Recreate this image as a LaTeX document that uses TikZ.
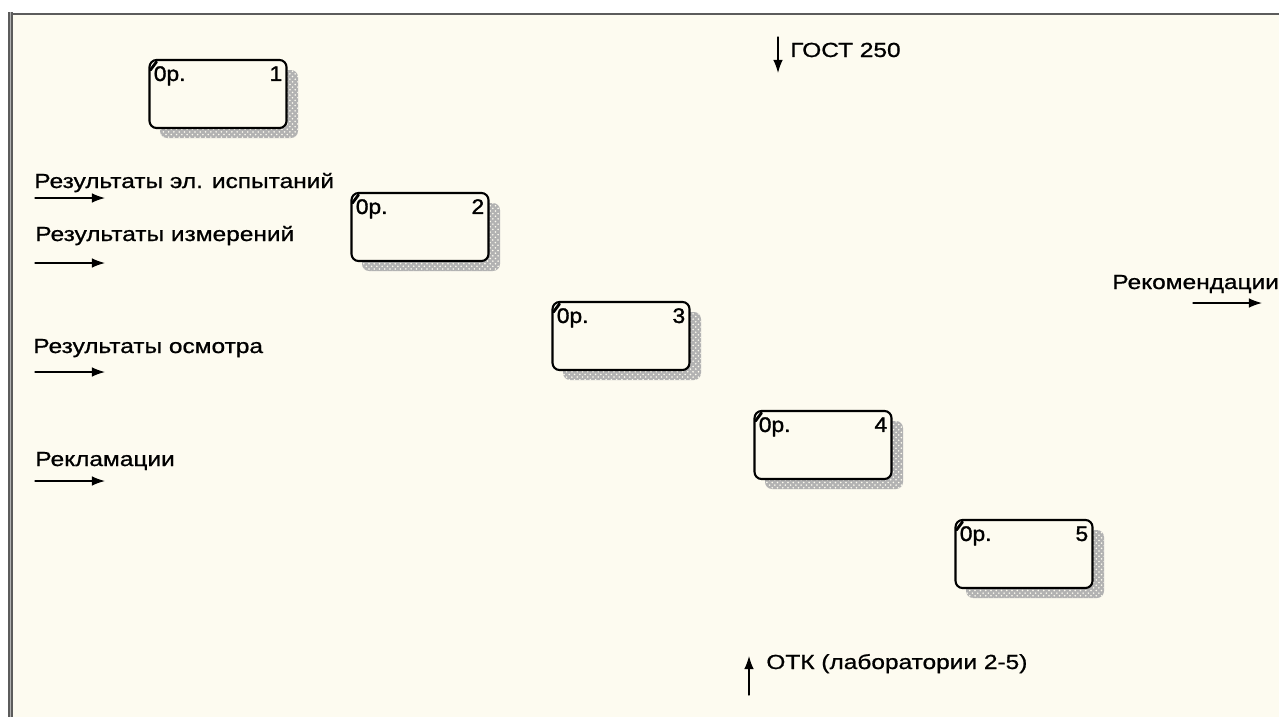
\documentclass[tikz,border=0pt]{standalone}
\usepackage{fontspec}
\setmainfont{Liberation Sans}[FakeStretch=1.2,FakeBold=0.9]
\newfontfamily\boxfont{Liberation Sans}[FakeStretch=1.08,FakeBold=1.6]
\usetikzlibrary{patterns,arrows.meta}
\definecolor{paper}{HTML}{FDFBF0}
\definecolor{rim}{HTML}{5C5C5C}

\begin{document}
\begin{tikzpicture}[x=0.02cm,y=-0.02cm,line cap=round,line join=round,
  lbl/.style={font=\fontsize{11.6}{14}\selectfont,anchor=base west,inner sep=0pt},
  flow/.style={line width=0.75pt,-{Latex[length=7.5pt,width=5.5pt]}},
  actbox/.style={draw,line width=1.2pt,rounded corners=4pt,fill=paper,
    minimum width=2.74cm,minimum height=1.36cm,inner sep=0pt},
  boxtag/.style={font=\boxfont\fontsize{12}{14}\selectfont,inner sep=0pt},
  hatch/.style={fill=gray!60,postaction={pattern=crosshatch dots,pattern color=paper}}]
  % page
  \useasboundingbox (0,0) rectangle (1279,717);
  \fill[white] (0,0) rectangle (1279,717);
  \fill[paper] (10,14) rectangle (1279,717);
  \draw[rim,line width=1pt,line cap=butt] (8,14) -- (1279,14);
  \fill[rim] (8,12) rectangle (13,717);
  \fill[gray!60] (9.7,12) rectangle (11.3,717);

  % activity boxes with hatched shadow
  \foreach \n/\cx/\cy in {1/218/94,2/420/227,3/621/336,4/823/445,5/1024/554}{
    \path[hatch,rounded corners=4pt] (\cx-58,\cy-24) rectangle (\cx+80,\cy+44);
    \node[actbox] (op\n) at (\cx,\cy) {};
    \draw[line width=1.6pt] ([shift={(2,11)}]op\n.north west) -- ([shift={(8,3)}]op\n.north west);
    \node[boxtag,anchor=base west] (tag\n) at ([shift={(5,22)}]op\n.north west) {0p.};
    \node[boxtag,anchor=base east] (num\n) at ([shift={(-5,22)}]op\n.north east) {\n};
  }

  % inputs
  \node[lbl] (inA) at (34,188) {Результаты эл. испытаний};
  \node[lbl] (inB) at (35,241) {Результаты измерений};
  \node[lbl] (inC) at (33,353) {Результаты осмотра};
  \node[lbl] (inD) at (35,466) {Рекламации};
  \coordinate (a0) at (35,198);  \coordinate (a1) at (105,198);
  \coordinate (b0) at (35,263);  \coordinate (b1) at (105,263);
  \coordinate (c0) at (35,372);  \coordinate (c1) at (105,372);
  \coordinate (d0) at (35,481);  \coordinate (d1) at (105,481);
  \draw[flow] (a0) -- (a1);
  \draw[flow] (b0) -- (b1);
  \draw[flow] (c0) -- (c1);
  \draw[flow] (d0) -- (d1);

  % control
  \node[lbl] (ctl) at (790,57) {ГОСТ 250};
  \coordinate (g0) at (778,37); \coordinate (g1) at (778,73);
  \draw[flow] (g0) -- (g1);

  % output
  \node[lbl] (out) at (1112,289) {Рекомендации};
  \coordinate (r0) at (1193,303); \coordinate (r1) at (1262,303);
  \draw[flow] (r0) -- (r1);

  % mechanism
  \node[lbl] (mech) at (766,669) {ОТК (лаборатории 2-5)};
  \coordinate (m0) at (749,695); \coordinate (m1) at (749,656);
  \draw[flow] (m0) -- (m1);
\end{tikzpicture}
\end{document}
